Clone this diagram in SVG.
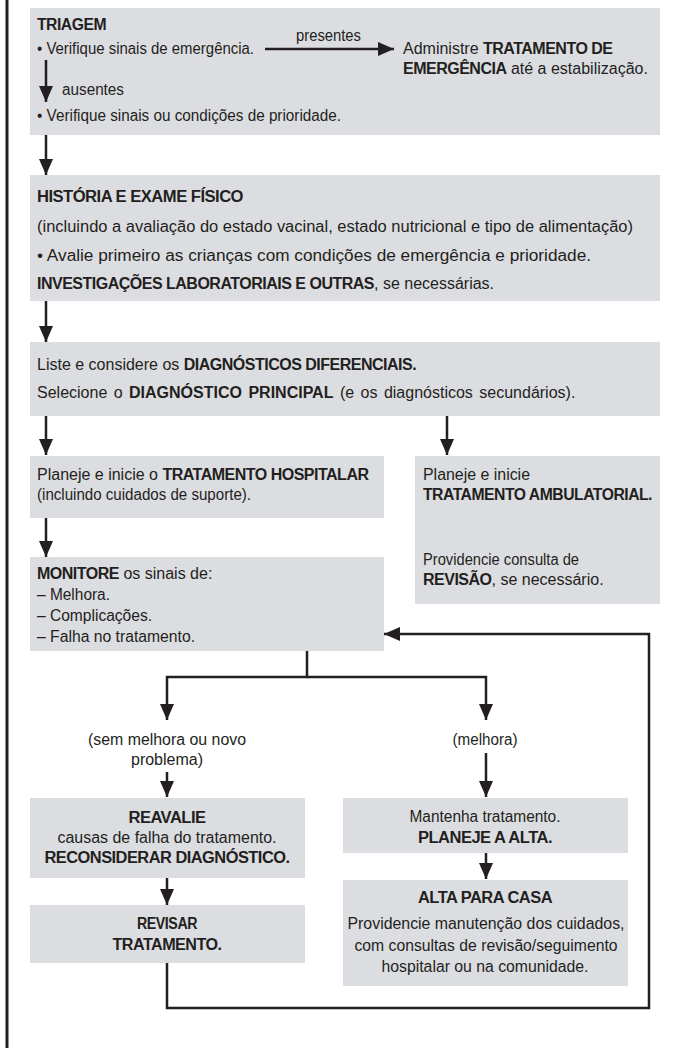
<svg xmlns="http://www.w3.org/2000/svg" width="674" height="1048" viewBox="0 0 674 1048">
<style>
.box{fill:#dcdde0}
.t{font-family:"Liberation Sans",Arial,sans-serif;font-size:16px;fill:#231f20}
.b{font-weight:bold;letter-spacing:-0.5px}
.c{text-anchor:middle}
.ln{stroke:#231f20;stroke-width:2.5;fill:none}
</style>
<defs>
<marker id="ah" markerUnits="userSpaceOnUse" markerWidth="16" markerHeight="14" refX="16" refY="7" orient="auto"><path d="M0,0 L16,7 L0,14 z" fill="#231f20"/></marker>
</defs>
<rect width="674" height="1048" fill="#ffffff"/>
<line x1="7" y1="0" x2="7" y2="1048" stroke="#231f20" stroke-width="3"/>

<g id="triagem">
<rect class="box" x="30" y="8" width="630" height="127"/>
<text class="t b" x="37" y="30" textLength="69" lengthAdjust="spacingAndGlyphs">TRIAGEM</text>
<text class="t" x="37" y="54" textLength="217" lengthAdjust="spacingAndGlyphs">• Verifique sinais de emergência.</text>
<text class="t" x="296" y="41" textLength="65" lengthAdjust="spacingAndGlyphs">presentes</text>
<text class="t" x="403" y="54">Administre <tspan class="b">TRATAMENTO DE</tspan></text>
<text class="t" x="403" y="74"><tspan class="b">EMERGÊNCIA</tspan> até a estabilização.</text>
<text class="t" x="62" y="95" textLength="62" lengthAdjust="spacingAndGlyphs">ausentes</text>
<text class="t" x="37" y="121" textLength="304" lengthAdjust="spacingAndGlyphs">• Verifique sinais ou condições de prioridade.</text>
</g>

<g id="historia">
<rect class="box" x="30" y="175" width="630" height="126"/>
<text class="t b" x="37" y="202" textLength="206" lengthAdjust="spacingAndGlyphs">HISTÓRIA E EXAME FÍSICO</text>
<text class="t" x="37" y="232" textLength="596" lengthAdjust="spacingAndGlyphs">(incluindo a avaliação do estado vacinal, estado nutricional e tipo de alimentação)</text>
<text class="t" x="37" y="261" textLength="554" lengthAdjust="spacingAndGlyphs">• Avalie primeiro as crianças com condições de emergência e prioridade.</text>
<text class="t" x="37" y="289"><tspan class="b">INVESTIGAÇÕES LABORATORIAIS E OUTRAS</tspan>, se necessárias.</text>
</g>

<g id="diagnostico">
<rect class="box" x="30" y="342" width="630" height="74"/>
<text class="t" x="37" y="370">Liste e considere os <tspan class="b">DIAGNÓSTICOS DIFERENCIAIS.</tspan></text>
<text class="t" x="37" y="398" style="word-spacing:2px">Selecione o <tspan class="b" style="letter-spacing:0">DIAGNÓSTICO PRINCIPAL</tspan> (e os diagnósticos secundários).</text>
</g>

<g id="hospitalar">
<rect class="box" x="30" y="456" width="354" height="62"/>
<text class="t" x="37" y="480">Planeje e inicie o <tspan class="b">TRATAMENTO HOSPITALAR</tspan></text>
<text class="t" x="37" y="500" textLength="214" lengthAdjust="spacingAndGlyphs">(incluindo cuidados de suporte).</text>
</g>

<g id="ambulatorial">
<rect class="box" x="415" y="456" width="245" height="148"/>
<text class="t" x="423" y="480" textLength="107" lengthAdjust="spacingAndGlyphs">Planeje e inicie</text>
<text class="t b" x="423" y="500" textLength="229" lengthAdjust="spacingAndGlyphs">TRATAMENTO AMBULATORIAL.</text>
<text class="t" x="423" y="565" textLength="156" lengthAdjust="spacingAndGlyphs">Providencie consulta de</text>
<text class="t" x="423" y="585"><tspan class="b">REVISÃO</tspan>, se necessário.</text>
</g>

<g id="monitore">
<rect class="box" x="30" y="557" width="354" height="94"/>
<text class="t" x="37" y="579"><tspan class="b">MONITORE</tspan> os sinais de:</text>
<text class="t" x="37" y="600" textLength="73" lengthAdjust="spacingAndGlyphs">– Melhora.</text>
<text class="t" x="37" y="621" textLength="115" lengthAdjust="spacingAndGlyphs">– Complicações.</text>
<text class="t" x="37" y="642" textLength="158" lengthAdjust="spacingAndGlyphs">– Falha no tratamento.</text>
</g>

<g id="label-sem-melhora">
<text class="t c" x="167" y="745" textLength="158" lengthAdjust="spacingAndGlyphs">(sem melhora ou novo</text>
<text class="t c" x="167" y="765" textLength="72" lengthAdjust="spacingAndGlyphs">problema)</text>
</g>

<g id="label-melhora">
<text class="t c" x="485" y="745" textLength="65" lengthAdjust="spacingAndGlyphs">(melhora)</text>
</g>

<g id="reavalie">
<rect class="box" x="30" y="798" width="275" height="80"/>
<text class="t b c" x="167" y="823" textLength="77" lengthAdjust="spacingAndGlyphs">REAVALIE</text>
<text class="t c" x="167" y="843" textLength="219" lengthAdjust="spacingAndGlyphs">causas de falha do tratamento.</text>
<text class="t b c" x="167" y="863" textLength="245" lengthAdjust="spacingAndGlyphs">RECONSIDERAR DIAGNÓSTICO.</text>
</g>

<g id="revisar">
<rect class="box" x="30" y="905" width="275" height="58"/>
<text class="t b c" x="167" y="929" textLength="60" lengthAdjust="spacingAndGlyphs">REVISAR</text>
<text class="t b c" x="167" y="950" textLength="109" lengthAdjust="spacingAndGlyphs">TRATAMENTO.</text>
</g>

<g id="mantenha">
<rect class="box" x="343" y="798" width="285" height="55"/>
<text class="t c" x="485" y="822" textLength="151" lengthAdjust="spacingAndGlyphs">Mantenha tratamento.</text>
<text class="t b c" x="485" y="843" textLength="134" lengthAdjust="spacingAndGlyphs">PLANEJE A ALTA.</text>
</g>

<g id="alta">
<rect class="box" x="343" y="880" width="285" height="106"/>
<text class="t b c" x="485" y="903" textLength="134" lengthAdjust="spacingAndGlyphs">ALTA PARA CASA</text>
<text class="t c" x="486" y="929" textLength="277" lengthAdjust="spacingAndGlyphs">Providencie manutenção dos cuidados,</text>
<text class="t c" x="486" y="951" textLength="263" lengthAdjust="spacingAndGlyphs">com consultas de revisão/seguimento</text>
<text class="t c" x="485" y="972" textLength="207" lengthAdjust="spacingAndGlyphs">hospitalar ou na comunidade.</text>
</g>

<g id="connectors">
<path class="ln" d="M265,49 H394" marker-end="url(#ah)"/>
<path class="ln" d="M46,60 V102" marker-end="url(#ah)"/>
<path class="ln" d="M46,135 V175" marker-end="url(#ah)"/>
<path class="ln" d="M46,301 V342" marker-end="url(#ah)"/>
<path class="ln" d="M46,416 V455" marker-end="url(#ah)"/>
<path class="ln" d="M447,416 V455" marker-end="url(#ah)"/>
<path class="ln" d="M46,518 V557" marker-end="url(#ah)"/>
<path class="ln" d="M307,651 V677 H167 V720" marker-end="url(#ah)"/>
<path class="ln" d="M307,677 H486 V720" marker-end="url(#ah)"/>
<path class="ln" d="M167,772 V797" marker-end="url(#ah)"/>
<path class="ln" d="M486,753 V797" marker-end="url(#ah)"/>
<path class="ln" d="M167,878 V905" marker-end="url(#ah)"/>
<path class="ln" d="M486,853 V879" marker-end="url(#ah)"/>
<path class="ln" d="M167,963 V1008 H649 V634 H384" marker-end="url(#ah)"/>
</g>
</svg>
